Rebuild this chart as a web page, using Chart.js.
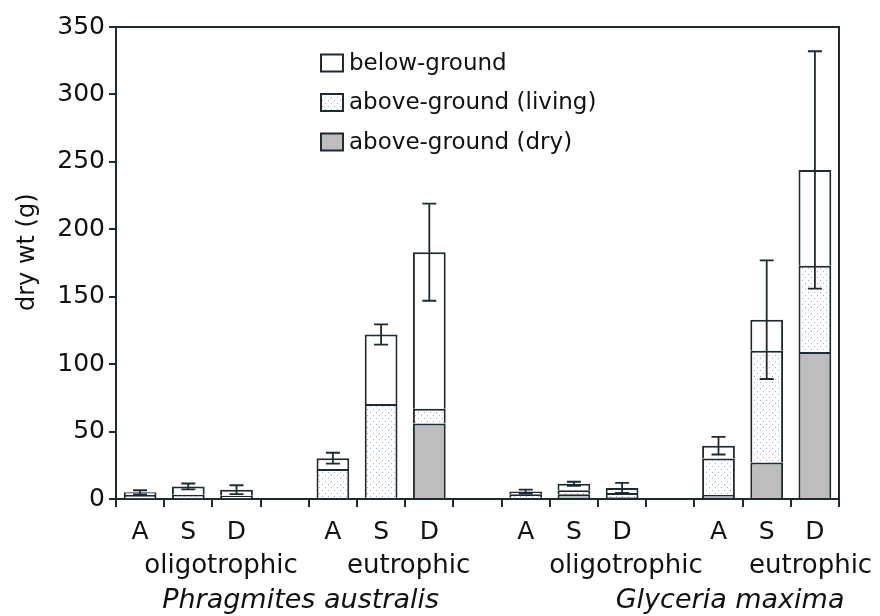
<!DOCTYPE html>
<html>
<head>
<meta charset="utf-8">
<script src="https://cdn.jsdelivr.net/npm/chart.js@4"></script>
<style>
  html, body { margin: 0; padding: 0; background: #fff; }
</style>
</head>
<body>
<canvas id="biomassChart" width="880" height="616"></canvas>
<script>
// slots: A S D per treatment, '' = gap between groups
const categories = ['A', 'S', 'D', '', 'A', 'S', 'D', '', 'A', 'S', 'D', '', 'A', 'S', 'D'];
const dryAbove    = [0.5, 0.5, 0.5, null, 0.8, 1, 56, null, 1, 3.5, 1.5, null, 3, 27, 109];
const livingAbove = [2.5, 2.7, 2, null, 21.5, 69.5, 11, null, 2.5, 3, 3, null, 27, 83, 64];
const belowGround = [2, 6.1, 4.4, null, 8, 51.5, 116, null, 2, 4.8, 3.7, null, 9.5, 23, 71];
const errTotal    = [1.5, 2.2, 3.3, null, 4, 7.5, 36, null, 1.5, 1.5, 3.7, null, 6.5, 44, 88];
const yTicks = [0, 50, 100, 150, 200, 250, 300, 350];

const groupNames = ['oligotrophic', 'eutrophic', 'oligotrophic', 'eutrophic'];
const speciesNames = ['Phragmites australis', 'Glyceria maxima'];

const ink = '#1d2a32';
const textInk = '#111';
const font = '"DejaVu Sans"';

const canvas = document.getElementById('biomassChart');
const ctx = canvas.getContext('2d');

// dotted fill for the living part
const tile = document.createElement('canvas');
tile.width = 6; tile.height = 6;
const t = tile.getContext('2d');
t.fillStyle = '#fdfdfd';
t.fillRect(0, 0, 6, 6);
t.fillStyle = '#94b6d0';
t.fillRect(1, 1, 1, 1);
t.fillRect(4, 4, 1, 1);
const dots = ctx.createPattern(tile, 'repeat');

// slot positions (in category units) for the text under the axis
const groupAt = [1.68, 5.57, 10.08, 13.91];
const speciesAt = [3.33, 12.24];

const extras = {
  id: 'extras',
  afterDatasetsDraw(chart) {
    const c = chart.ctx;
    const a = chart.chartArea;
    const y = chart.scales.y;
    c.save();
    c.strokeStyle = ink;
    c.lineWidth = 2;
    // frame on top and right
    c.beginPath();
    c.moveTo(a.left, a.top);
    c.lineTo(a.right, a.top);
    c.lineTo(a.right, a.bottom);
    c.stroke();
    // error bars on the stack totals
    c.lineWidth = 1.8;
    chart.getDatasetMeta(2).data.forEach((bar, i) => {
      if (errTotal[i] == null) return;
      const total = dryAbove[i] + livingAbove[i] + belowGround[i];
      const hi = y.getPixelForValue(total + errTotal[i]);
      const lo = y.getPixelForValue(Math.max(0, total - errTotal[i]));
      const cx = bar.x;
      c.beginPath();
      c.moveTo(cx, hi); c.lineTo(cx, lo);
      c.moveTo(cx - 7, hi); c.lineTo(cx + 7, hi);
      c.moveTo(cx - 7, lo); c.lineTo(cx + 7, lo);
      c.stroke();
    });
    c.restore();
  },
  afterDraw(chart) {
    const c = chart.ctx;
    const a = chart.chartArea;
    const x = chart.scales.x;
    const y = chart.scales.y;
    c.save();
    // legend, top entry first
    const sets = chart.data.datasets.slice().reverse();
    c.font = '23px ' + font;
    c.textBaseline = 'middle';
    c.textAlign = 'left';
    sets.forEach((ds, k) => {
      const cy = a.top + 36 + k * 39.5;
      const bx = a.left + 205;
      c.fillStyle = ds.backgroundColor;
      c.fillRect(bx, cy - 8.5, 22, 17);
      c.strokeStyle = ink;
      c.lineWidth = 2;
      c.strokeRect(bx, cy - 8.5, 22, 17);
      c.fillStyle = textInk;
      c.fillText(ds.label, bx + 28, cy + 1);
    });
    // treatment and species names under the axis
    c.textAlign = 'center';
    c.font = '26px ' + font;
    groupNames.forEach((name, k) => {
      c.fillText(name, x.getPixelForValue(groupAt[k]), x.top + 67);
    });
    c.font = 'italic 27px ' + font;
    speciesNames.forEach((name, k) => {
      c.fillText(name, x.getPixelForValue(speciesAt[k]), x.top + 102);
    });
    // axis title
    c.font = '24px ' + font;
    c.translate(28, y.getPixelForValue(183));
    c.rotate(-Math.PI / 2);
    c.fillText('dry wt (g)', 0, 0);
    c.restore();
  }
};

const barStyle = {
  borderColor: ink,
  borderWidth: 2,
  borderSkipped: 'start',
  categoryPercentage: 1,
  barPercentage: 0.68
};

new Chart(ctx, {
  type: 'bar',
  data: {
    labels: categories,
    datasets: [
      Object.assign({ label: 'above-ground (dry)', data: dryAbove, backgroundColor: '#bdbdbd' }, barStyle),
      Object.assign({ label: 'above-ground (living)', data: livingAbove, backgroundColor: dots }, barStyle),
      Object.assign({ label: 'below-ground', data: belowGround, backgroundColor: '#ffffff' }, barStyle)
    ]
  },
  options: {
    responsive: false,
    animation: false,
    layout: { padding: { left: 0, right: 41, top: 27, bottom: 0 } },
    plugins: {
      legend: { display: false },
      tooltip: { enabled: false }
    },
    scales: {
      x: {
        stacked: true,
        afterFit(scale) { scale.height = 117; },
        grid: { drawOnChartArea: false, color: ink, lineWidth: 2, tickLength: 8 },
        border: { color: ink, width: 2 },
        ticks: { color: textInk, font: { family: font, size: 25 }, padding: 10, maxRotation: 0, autoSkip: false }
      },
      y: {
        stacked: true,
        min: 0,
        max: 350,
        afterFit(scale) { scale.width = 116; },
        afterBuildTicks(scale) { scale.ticks = yTicks.map(v => ({ value: v })); },
        grid: { drawOnChartArea: false, color: ink, lineWidth: 2, tickLength: 7 },
        border: { color: ink, width: 2 },
        ticks: { color: textInk, font: { family: font, size: 25 }, padding: 4 }
      }
    }
  },
  plugins: [extras]
});
</script>
</body>
</html>
